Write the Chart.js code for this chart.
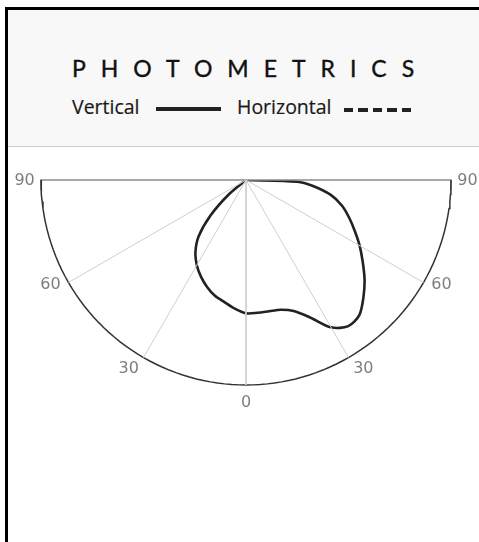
<!DOCTYPE html>
<html>
<head>
<meta charset="utf-8">
<title>Photometrics</title>
<script src="https://cdn.jsdelivr.net/npm/chart.js"></script>
<style>
  html, body { margin: 0; padding: 0; background: #fff; overflow: hidden; }
  body { width: 479px; height: 542px; position: relative; }
  #frame { position: absolute; left: 5px; top: 7px; width: 540px; height: 600px;
           border-left: 3px solid #000; border-top: 3px solid #000; }
  #header { position: absolute; left: 8px; top: 10px; width: 471px; height: 136px;
            background: #f8f8f8; border-bottom: 1px solid #cbcbcb; }
  #title { position: absolute; left: 72px; top: 57px; font: 23px/23px Lato, sans-serif;
           letter-spacing: 15px; color: #111; white-space: nowrap;
           -webkit-text-stroke: 0.4px #111; }
  .leg { position: absolute; top: 97px; font: 19.5px/19px "Open Sans", sans-serif; color: #1a1a1a;
         white-space: nowrap; -webkit-text-stroke: 0.2px #1a1a1a; }
  .solid { position: absolute; left: 156px; top: 107px; width: 65px; height: 4px; background: #222; }
  .dash { position: absolute; left: 344px; top: 108px; width: 70px; height: 4px;
          background: repeating-linear-gradient(90deg, #222 0 9.5px, transparent 9.5px 14.5px); }
  #chart { position: absolute; left: 0; top: 150px; }
</style>
</head>
<body>
<div id="frame"></div>
<div id="header"></div>
<div id="title">PHOTOMETRICS</div>
<div class="leg" style="left:72px">Vertical</div>
<div class="solid"></div>
<div class="leg" style="left:237px">Horizontal</div>
<div class="dash"></div>
<canvas id="chart" width="479" height="392"></canvas>
<script>
"use strict";

// angle from nadir (deg, + to the right) and intensity (cd)
const verticalAngles = [-55, -50, -45, -40, -35, -30, -25, -20, -15, -10, -5, 0, 5, 10, 15, 20,
  25, 30, 35, 40, 45, 50, 55, 60, 65, 70, 75, 80, 85, 88, 90];
const verticalCd = [0, 110, 245, 360, 430, 480, 520, 555, 585, 605, 630, 650, 650, 650, 655, 680,
  740, 830, 870, 860, 810, 755, 695, 640, 585, 535, 485, 420, 325, 250, 0];

// no horizontal curve drawn in the picture
const horizontalAngles = [];
const horizontalCd = [];

const gridAngles = [-60, -30, 0, 30, 60];
const tickAngles = [-90, -60, -30, 0, 30, 60, 90];
const maxCd = 1000;

function toXY(angle, cd) {
  const a = angle * Math.PI / 180;
  return { x: cd * Math.sin(a), y: -cd * Math.cos(a) };
}

function polar(angles, values) {
  return angles.map((a, i) => toXY(a, values[i]));
}

function arcPoints() {
  const pts = [];
  for (let a = -90; a <= 90; a += 2) pts.push(toXY(a, maxCd));
  return pts;
}

const datasets = [];

for (let a of gridAngles) {
  datasets.push({
    data: [toXY(a, 0), toXY(a, maxCd)],
    borderColor: "#cfcfcf",
    borderWidth: 1,
  });
}

datasets.push({
  data: arcPoints(),
  borderColor: "#333",
  borderWidth: 1.5,
  clip: false,
});

// the 90-90 baseline with its little end ticks
datasets.push({
  data: [{ x: -maxCd, y: -50 }, { x: -maxCd, y: 0 }, { x: maxCd, y: 0 }, { x: maxCd, y: -50 }],
  borderColor: "#8c8c8c",
  borderWidth: 1.5,
  clip: false,
});

datasets.push({
  label: "Horizontal",
  data: polar(horizontalAngles, horizontalCd),
  borderColor: "#222",
  borderWidth: 2.5,
  borderDash: [9, 5],
});

datasets.push({
  label: "Vertical",
  data: polar(verticalAngles, verticalCd),
  borderColor: "#222",
  borderWidth: 2.6,
  tension: 0.3,
});

const angleLabels = {
  id: "angleLabels",
  afterDraw(chart) {
    const { ctx, scales } = chart;
    ctx.save();
    ctx.font = "16px 'DejaVu Sans', sans-serif";
    ctx.fillStyle = "#7e7e7e";
    ctx.textAlign = "center";
    ctx.textBaseline = "middle";
    for (let a of tickAngles) {
      // labels sit a touch further round than their spoke
      let shift = Math.abs(a) == 30 || Math.abs(a) == 60 ? Math.sign(a) * 2 : 0;
      const p = toXY(a + shift, maxCd * 1.08);
      ctx.fillText(String(Math.abs(a)), scales.x.getPixelForValue(p.x), scales.y.getPixelForValue(p.y) + 1);
    }
    ctx.restore();
  },
};

new Chart(document.getElementById("chart").getContext("2d"), {
  type: "scatter",
  data: { datasets },
  options: {
    responsive: false,
    animation: false,
    events: [],
    showLine: true,
    elements: { point: { radius: 0 } },
    layout: { padding: { left: 41, right: 28, top: 30, bottom: 157 } },
    scales: {
      x: { display: false, min: -maxCd, max: maxCd },
      y: { display: false, min: -maxCd, max: 0 },
    },
    plugins: { legend: { display: false }, tooltip: { enabled: false } },
  },
  plugins: [angleLabels],
});
</script>
</body>
</html>
